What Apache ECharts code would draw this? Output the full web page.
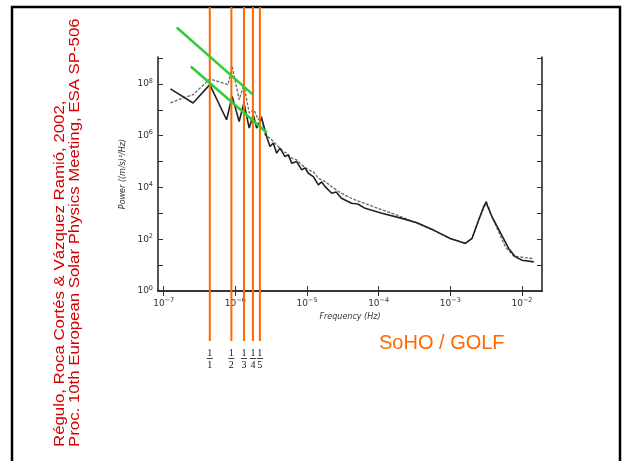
<!DOCTYPE html>
<html><head><meta charset="utf-8">
<script src="https://cdn.jsdelivr.net/npm/echarts@6/dist/echarts.min.js"></script>
<style>html,body{margin:0;padding:0;background:#fff}#c{width:624px;height:461px}</style>
</head><body><div id="c"></div>
<script>
// Values are log10 of frequency (Hz) and log10 of power ((m/s)^2/Hz)
const solidLogFreq  = [-6.906,-6.590,-6.357,-6.123,-6.045,-5.947,-5.881,-5.807,-5.751,-5.703,-5.634,-5.564,-5.517,-5.471,-5.424,-5.378,-5.308,-5.262,-5.214,-5.144,-5.074,-5.028,-4.982,-4.912,-4.842,-4.795,-4.748,-4.655,-4.594,-4.519,-4.379,-4.290,-4.189,-3.956,-3.676,-3.466,-3.234,-3.000,-2.790,-2.697,-2.604,-2.534,-2.497,-2.487,-2.417,-2.185,-2.091,-1.997,-1.835];
const solidLogPower = [7.806,7.264,7.973,6.616,7.519,6.550,7.264,6.295,6.810,6.295,6.682,5.969,5.581,5.713,5.326,5.519,5.194,5.260,4.938,5.000,4.678,4.756,4.550,4.419,4.097,4.213,4.031,3.775,3.826,3.581,3.388,3.360,3.194,3.000,2.806,2.636,2.353,2.031,1.837,2.031,2.740,3.256,3.450,3.322,2.868,1.643,1.318,1.190,1.124];
const dashedLogFreq  = [-6.906,-6.730,-6.590,-6.357,-6.101,-6.045,-5.947,-5.881,-5.807,-5.741,-5.681,-5.634,-5.587,-5.517,-5.448,-5.378,-5.331,-5.284,-5.214,-5.144,-5.074,-4.982,-4.912,-4.842,-4.748,-4.655,-4.562,-4.469,-4.329,-4.143,-3.956,-3.769,-3.629,-3.466,-3.234,-3.000,-2.790,-2.697,-2.604,-2.534,-2.497,-2.464,-2.441,-2.231,-2.115,-1.857,-1.835];
const dashedLogPower = [7.264,7.457,7.585,8.194,7.973,8.682,7.391,7.973,6.876,7.004,6.616,6.744,6.035,5.907,5.713,5.519,5.388,5.326,5.132,5.066,4.872,4.678,4.612,4.357,4.225,4.031,3.850,3.700,3.520,3.330,3.140,2.960,2.806,2.620,2.340,2.020,1.850,2.030,2.740,3.200,3.400,3.250,3.000,1.705,1.345,1.256,1.256];
const xTickExps = [-7,-6,-5,-4,-3,-2];
const yTickExps = [0,1,2,3,4,5,6,7,8,9];
const yLabelExps = [0,2,4,6,8];
const rotationLogFreq = -6.357;       // fundamental frequency (log10 Hz)
const harmonics = [1,2,3,4,5];
const greenUpperLogFreq = [-6.818,-5.755];
const greenUpperLogPower = [10.18,7.585];
const greenLowerLogFreq = [-6.622,-5.559];
const greenLowerLogPower = [8.671,6.112];
const citationLines = ['Régulo, Roca Cortés & Vázquez Ramió, 2002,', 'Proc. 10th European Solar Physics Meeting, ESA SP-506'];
const instrumentLabel = 'SoHO / GOLF';
const xName = 'Frequency (Hz)';
const yName = 'Power ((m/s)²/Hz)';

const zip = (a, b) => a.map((v, i) => [v, b[i]]);
const supFmt = v => '{b|10}{s|' + String(v).replace('-', '\u2212') + '}';
const rich = {b:{fontSize:9,fontFamily:'DejaVu Sans',color:'#333'}, s:{fontSize:6.5,fontFamily:'DejaVu Sans',color:'#333',padding:[0,0,6,0]}};
const axisLine = {show:true, lineStyle:{color:'#2a2a2a', width:1.6}};
const XMIN = -7.08, XMAX = -1.72, YMIN = 0, YMAX = 9.04;

const chart = echarts.init(document.getElementById('c'), null, {renderer:'canvas'});
chart.setOption({
  animation:false,
  backgroundColor:'#fff',
  grid:[
    {left:158, right:82, top:57, bottom:170},
    {left:158, right:82, top:7, bottom:120}
  ],
  xAxis:[
    {type:'value', gridIndex:0, min:XMIN, max:XMAX, position:'bottom', axisLine,
     splitLine:{show:false},
     axisTick:{inside:true, length:5, lineStyle:{color:'#333'}, customValues:xTickExps},
     axisLabel:{customValues:xTickExps, formatter:supFmt, rich, margin:6},
     name:xName, nameLocation:'middle', nameGap:13,
     nameTextStyle:{fontSize:8, fontFamily:'DejaVu Sans', fontStyle:'italic', color:'#333'}},
    {type:'value', gridIndex:0, min:XMIN, max:XMAX, position:'top', axisLine,
     splitLine:{show:false},
     axisTick:{inside:true, length:5, lineStyle:{color:'#333'}, customValues:xTickExps},
     axisLabel:{show:false}},
    {type:'value', gridIndex:1, min:XMIN, max:XMAX, show:false}
  ],
  yAxis:[
    {type:'value', gridIndex:0, min:YMIN, max:YMAX, position:'left', axisLine,
     splitLine:{show:false},
     axisTick:{inside:true, length:5, lineStyle:{color:'#333'}, customValues:yTickExps},
     axisLabel:{customValues:yLabelExps, formatter:supFmt, rich, margin:5},
     name:yName, nameLocation:'middle', nameGap:27, nameRotate:90,
     nameTextStyle:{fontSize:8, fontFamily:'DejaVu Sans', fontStyle:'italic', color:'#333'}},
    {type:'value', gridIndex:0, min:YMIN, max:YMAX, position:'right', axisLine,
     splitLine:{show:false},
     axisTick:{inside:true, length:5, lineStyle:{color:'#333'}, customValues:yTickExps},
     axisLabel:{show:false}},
    {type:'value', gridIndex:1, min:0, max:1, show:false}
  ],
  series:[
    {type:'line', xAxisIndex:0, yAxisIndex:0, data:zip(dashedLogFreq, dashedLogPower),
     showSymbol:false, z:2, lineStyle:{color:'#6a6a6a', width:1.3, type:[3,1.5]}},
    {type:'line', xAxisIndex:0, yAxisIndex:0, data:zip(solidLogFreq, solidLogPower),
     showSymbol:false, z:2, lineStyle:{color:'#222', width:1.6}},
    {type:'custom', xAxisIndex:2, yAxisIndex:2, z:5,
     data:harmonics.map(n => [rotationLogFreq + Math.log10(n), n]),
     renderItem:(params, api) => {
       const x = api.value(0), n = api.value(1);
       const top = api.coord([x, 1]), bot = api.coord([x, 0]);
       const font = '10px "Liberation Serif"';
       return {type:'group', children:[
         {type:'line', shape:{x1:top[0], y1:top[1], x2:bot[0], y2:bot[1]}, style:{stroke:'#ff6a00', lineWidth:2}},
         {type:'text', x:bot[0], y:bot[1]+12, style:{text:'1', textAlign:'center', textVerticalAlign:'middle', font, fill:'#111'}},
         {type:'line', shape:{x1:bot[0]-3, y1:bot[1]+17.5, x2:bot[0]+3, y2:bot[1]+17.5}, style:{stroke:'#111', lineWidth:0.8}},
         {type:'text', x:bot[0], y:bot[1]+24, style:{text:String(n), textAlign:'center', textVerticalAlign:'middle', font, fill:'#111'}}
       ]};
     }},
    {type:'line', xAxisIndex:0, yAxisIndex:0, clip:false, z:6, showSymbol:false,
     data:zip(greenUpperLogFreq, greenUpperLogPower), lineStyle:{color:'#33cc33', width:2.5}},
    {type:'line', xAxisIndex:0, yAxisIndex:0, clip:false, z:6, showSymbol:false,
     data:zip(greenLowerLogFreq, greenLowerLogPower), lineStyle:{color:'#33cc33', width:2.5}}
  ],
  graphic:[
    {type:'rect', shape:{x:12, y:7, width:608, height:470}, style:{fill:'none', stroke:'#000', lineWidth:2.5}, z:1},
    {type:'text', x:67.5, y:447, rotation:Math.PI/2, scaleX:1.2,
     style:{text:citationLines.join('\n'), font:'14px "Liberation Sans"', lineHeight:15, fill:'#d40000', textAlign:'left', textVerticalAlign:'middle'}},
    {type:'text', x:379, y:343,
     style:{text:instrumentLabel, font:'20px "Liberation Sans"', fill:'#ff6a00', textAlign:'left', textVerticalAlign:'middle'}}
  ]
});
</script></body></html>
